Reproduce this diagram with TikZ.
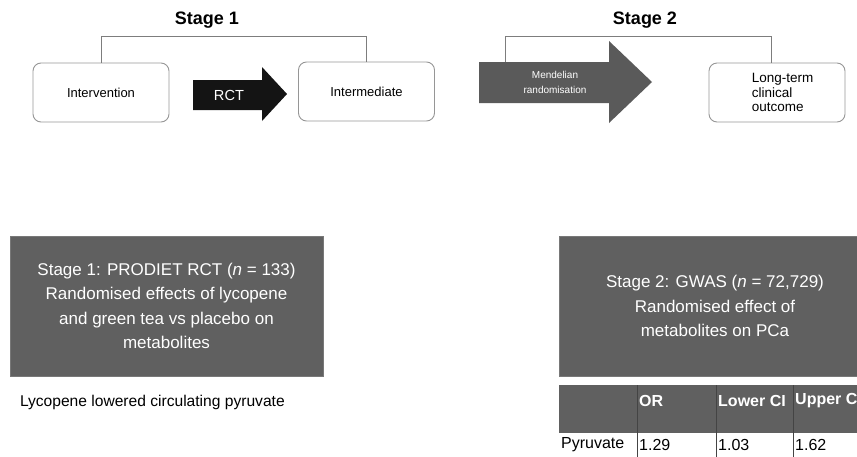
\documentclass[tikz,border=0pt]{standalone}
\usepackage{fontspec}
\setmainfont{Liberation Sans}
\usetikzlibrary{positioning}
\definecolor{boxgray}{RGB}{96,96,96}
\definecolor{arrowgray}{RGB}{90,90,90}
\definecolor{linegray}{RGB}{125,125,125}
\definecolor{edgegray}{RGB}{150,150,150}
\definecolor{rulegray}{RGB}{68,68,68}

\begin{document}
\begin{tikzpicture}[x=1pt, y=-1pt,
    roundbox/.style={draw=edgegray, line width=0.9pt, rounded corners=8pt, minimum width=136pt, minimum height=59pt, font=\fontsize{13}{15}\selectfont},
    bracket/.style={draw=linegray, line width=1pt},
    stagehead/.style={font=\fontsize{18}{20}\selectfont\bfseries},
    darkbox/.style={fill=boxgray, draw=boxgray!85, text=white, align=center, minimum width=313pt, minimum height=140pt, font=\fontsize{17}{24.3}\selectfont},
    cell/.style={anchor=west, inner sep=0pt, font=\fontsize{16}{18}\selectfont}
]
\useasboundingbox (0,0) rectangle (857,456);
\clip (0,0) rectangle (857,456);

% Stage headings
\node[stagehead] (stage1) at (207,20) {Stage 1};
\node[stagehead] (stage2) at (645,20) {Stage 2};

% Boxes of the top row
\node[roundbox] (interv) at (101,92.5) {Intervention};
\node[roundbox] (interm) at (366.5,91.5) {Intermediate};
\node[roundbox] (longterm) at (777,92.5) {};
\node[anchor=west, align=left, inner sep=0pt, font=\fontsize{13.5}{14.5}\selectfont] (ltlabel) at ([xshift=43pt]longterm.west) {Long-term\\clinical\\outcome};

% Arrows
\fill[black!92] (193,80) -- (262,80) -- (262,67) -- (287,94) -- (262,121) -- (262,110) -- (193,110) -- cycle;
\node[text=white, font=\fontsize{14.6}{16}\selectfont] (rct) at (229,95) {RCT};
\fill[arrowgray] (479,62) -- (609,62) -- (609,41) -- (652,82) -- (609,123) -- (609,103) -- (479,103) -- cycle;
\node[text=white, align=center, font=\fontsize{10}{15}\selectfont] (mr) at (555,82.5) {Mendelian\\randomisation};
\coordinate (mrtop) at (505,62);

% Brackets
\draw[bracket] (interv.north) -- (interv.north |- 0,36) -| (interm.north);
\draw[bracket] (mrtop) -- (mrtop |- 0,36) -| ([xshift=-6pt]longterm.north);

% Lower row
\node[darkbox] (s1box) at (166.5,306) {Stage 1: PRODIET RCT (\textit{n} = 133)\\Randomised effects of lycopene\\and green tea vs placebo on\\metabolites};
\node[anchor=west, inner sep=0pt, font=\fontsize{15.6}{18}\selectfont] (lyco) at ([xshift=10pt, yshift=-26pt]s1box.south west) {Lycopene lowered circulating pyruvate};
\node[darkbox, minimum width=312pt] (s2box) at (715,306) {Stage 2: GWAS (\textit{n} = 72,729)\\Randomised effect of\\metabolites on PCa};

% Table
\fill[boxgray] (559,385) rectangle (880,433);
\foreach \x in {637,716,793}
    \draw[rulegray, line width=1pt] (\x,385) -- (\x,460);
\node[cell, text=white, font=\fontsize{16}{18}\selectfont\bfseries] (hor) at (639,401) {OR};
\node[cell, text=white, font=\fontsize{16}{18}\selectfont\bfseries] (hlow) at (718,401) {Lower CI};
\node[cell, text=white, font=\fontsize{16}{18}\selectfont\bfseries] (hup) at (795,401) {Upper CI};
\node[cell] (pyr) at (561,445) {Pyruvate};
\node[cell] (vor) at (639,445) {1.29};
\node[cell] (vlow) at (718,445) {1.03};
\node[cell] (vup) at (795,445) {1.62};
\end{tikzpicture}
\end{document}
